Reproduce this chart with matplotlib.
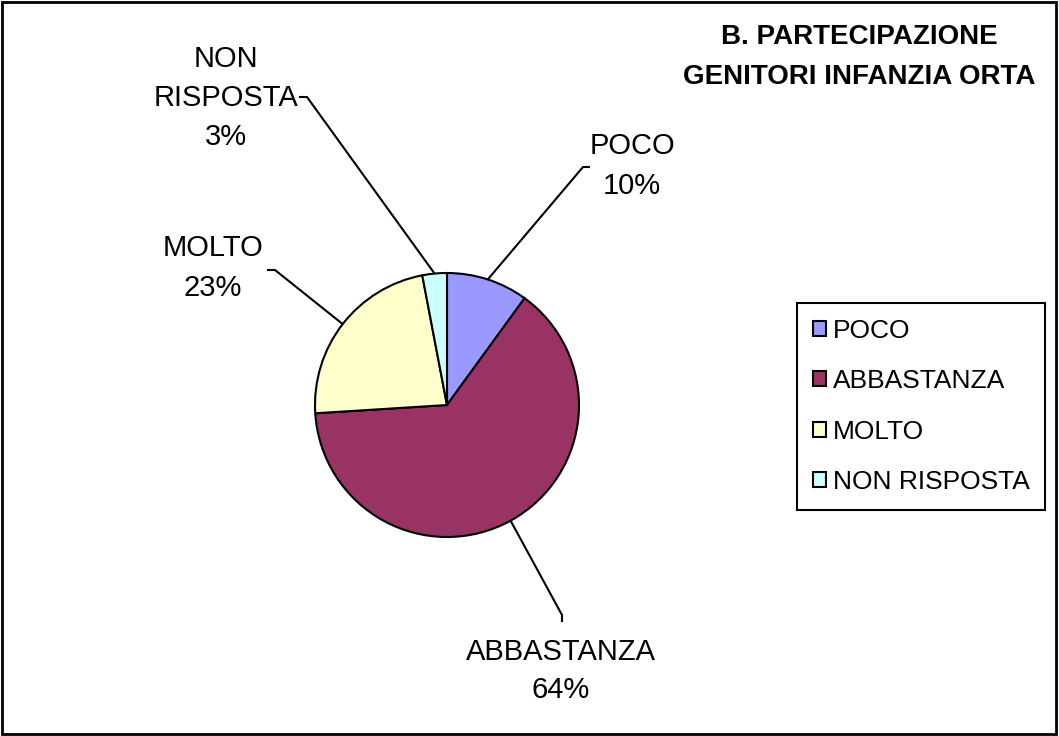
import matplotlib.pyplot as plt
from matplotlib.patches import Rectangle
import numpy as np

plt.rcParams['font.family'] = ['Liberation Sans', 'DejaVu Sans']

labels = ['POCO', 'ABBASTANZA', 'MOLTO', 'NON RISPOSTA']
percent = [10, 64, 23, 3]
colors = ['#9999FF', '#993366', '#FFFFCC', '#CCFFFF']
pie_texts = ['POCO\n10%', 'ABBASTANZA\n64%', 'MOLTO\n23%', 'NON\nRISPOSTA\n3%']
title = 'B. PARTECIPAZIONE\nGENITORI INFANZIA ORTA'

W, H = 1059, 736
fig = plt.figure(figsize=(W / 100, H / 100), dpi=100)
ax = fig.add_axes([0, 0, 1, 1])

# pie placed in pixel-like data coordinates (y up)
cx, cy, r = 447, H - 405, 132
wedges, _ = ax.pie(percent, colors=colors, startangle=90, counterclock=False,
                   center=(cx, cy), radius=r,
                   wedgeprops=dict(edgecolor='black', linewidth=1.5))
ax.set_xlim(0, W)
ax.set_ylim(0, H)
ax.set_aspect('equal')
ax.axis('off')

# label layout (image coords: y down)
leader_end = [(583, 167), (562, 615), (275, 270), (307, 97)]
tick_end = [(590, 167), (562, 622), (267, 270), (299, 97)]
text_pos = [(632, 166), (561, 671), (213, 268), (226, 98)]

for w, t, le, te, tp in zip(wedges, pie_texts, leader_end, tick_end, text_pos):
    mid = np.deg2rad((w.theta1 + w.theta2) / 2)
    ex, ey = cx + r * np.cos(mid), cy + r * np.sin(mid)
    ax.plot([ex, le[0], te[0]], [ey, H - le[1], H - te[1]], color='black', lw=1.5,
            solid_capstyle='butt')
    ax.text(tp[0], H - tp[1], t, ha='center', va='center', fontsize=21,
            linespacing=1.5, multialignment='center')

ax.text(859, H - 57, title, ha='center', va='center', fontsize=20,
        fontweight='bold', linespacing=1.7)

leg = ax.legend(wedges, labels, loc='upper left',
                bbox_to_anchor=(797 / W, 1 - 303 / H), bbox_transform=fig.transFigure,
                fontsize=19, frameon=True, fancybox=False, edgecolor='black',
                framealpha=1, handlelength=0.5, handleheight=0.5, handletextpad=0.25,
                labelspacing=1.0, borderpad=0.6, borderaxespad=0)
leg.get_frame().set_linewidth(1.5)

fig.patches.append(Rectangle((0.002, 0.003), 0.995, 0.994, transform=fig.transFigure,
                             fill=False, edgecolor='black', linewidth=2))

fig.savefig('out.png', dpi=100)
